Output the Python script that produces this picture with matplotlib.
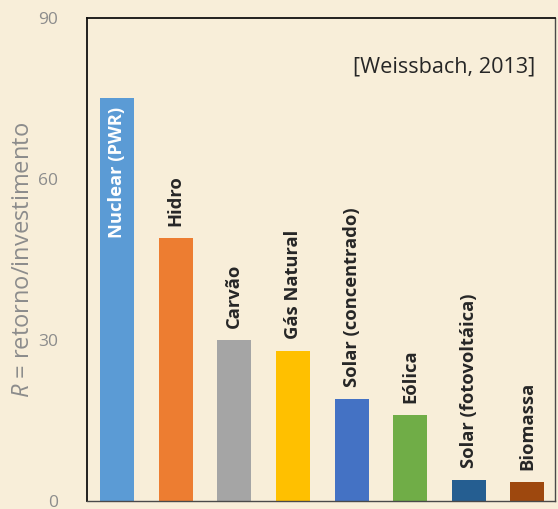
import matplotlib
matplotlib.use("Agg")
import matplotlib.pyplot as plt

# EROI values (Weissbach et al., 2013)
sources = ["Nuclear (PWR)", "Hidro", "Carvão", "Gás Natural",
           "Solar (concentrado)", "Eólica", "Solar (fotovoltáica)", "Biomassa"]
eroi = [75, 49, 30, 28, 19, 16, 3.9, 3.5]
colors = ["#5B9BD5", "#ED7D31", "#A5A5A5", "#FFC000",
          "#4472C4", "#70AD47", "#255E91", "#9E480E"]
yticks = [0, 30, 60, 90]

bg = "#F8EED9"
plt.rcParams["font.family"] = ["Open Sans", "DejaVu Sans"]
plt.rcParams["mathtext.fontset"] = "custom"
plt.rcParams["mathtext.it"] = "Open Sans:italic"

fig = plt.figure(figsize=(5.58, 5.09), dpi=100, facecolor=bg)
ax = fig.add_axes([0.156, 0.0157, 0.8386, 0.949])
ax.set_facecolor(bg)

x = range(len(sources))
bars = ax.bar(x, eroi, width=0.58, color=colors, zorder=2)

for i, (b, name, v) in enumerate(zip(bars, sources, eroi)):
    cx = b.get_x() + b.get_width() / 2
    if i == 0:
        ax.text(cx, v - 1.5, name, rotation=90, ha="center", va="top",
                color="white", fontsize=13.2, fontweight="bold")
    else:
        ax.text(cx, v + 2.2, name, rotation=90, ha="center", va="bottom",
                color="#262626", fontsize=13.2, fontweight="bold")

ax.set_xlim(-0.51, 7.47)
ax.set_ylim(0, 90)
ax.set_xticks([])
ax.set_yticks(yticks)
ax.set_yticklabels([str(t) for t in yticks], color="#8C8C8C", fontsize=12.5)
ax.tick_params(axis="y", length=0, pad=21)

for side in ["left", "top"]:
    ax.spines[side].set_color("#111111")
    ax.spines[side].set_linewidth(1.3)
for side in ["right", "bottom"]:
    ax.spines[side].set_color("#4a4a4a")
    ax.spines[side].set_linewidth(1.0)

ax.set_ylabel(r"$R$ = retorno/investimento", color="#8C8C8C", fontsize=17)
ax.yaxis.set_label_coords(-0.111, 0.5)

ax.text(0.957, 0.899, "[Weissbach, 2013]", transform=ax.transAxes,
        ha="right", va="center", fontsize=15.6, color="#262626")

fig.savefig("out.png", dpi=100, facecolor=bg)
